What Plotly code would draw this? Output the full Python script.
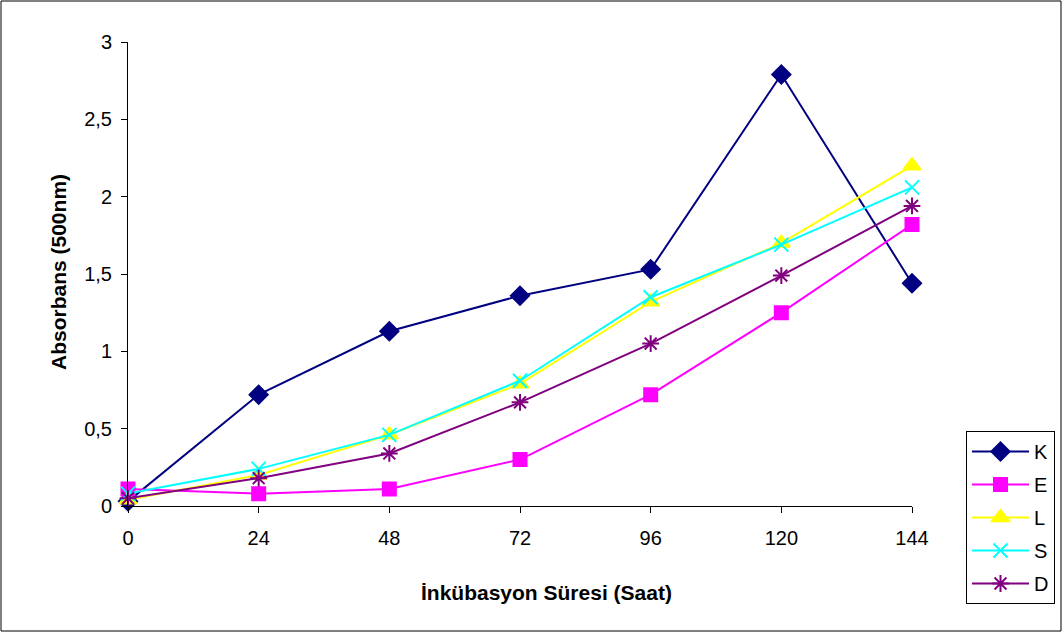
import plotly.graph_objects as go

hours = [0, 24, 48, 72, 96, 120, 144]
K = [0.03, 0.72, 1.13, 1.36, 1.53, 2.79, 1.44]
E = [0.11, 0.08, 0.11, 0.30, 0.72, 1.25, 1.82]
L = [0.04, 0.20, 0.46, 0.79, 1.32, 1.70, 2.20]
S = [0.08, 0.24, 0.46, 0.81, 1.35, 1.69, 2.06]
D = [0.05, 0.18, 0.34, 0.67, 1.05, 1.49, 1.94]
y_ticks = [0, 0.5, 1, 1.5, 2, 2.5, 3]
y_ticktext = ["0", "0,5", "1", "1,5", "2", "2,5", "3"]

series = [
    ("K", K, "#000080", "diamond", 14),
    ("E", E, "#FF00FF", "square", 13),
    ("L", L, "#FFFF00", "triangle-up", 15),
    ("S", S, "#00FFFF", "x-thin-open", 14),
    ("D", D, "#800080", "asterisk-open", 14),
]

fig = go.Figure()
for name, vals, col, sym, sz in series:
    fig.add_trace(go.Scatter(
        x=hours, y=vals, name=name, mode="lines+markers",
        line=dict(color=col, width=2),
        marker=dict(symbol=sym, size=sz, color=col, line=dict(color=col, width=2)),
        legendgroup=name, cliponaxis=False,
    ))

W, H = 1062, 632
l, r, t, b = 128, 150, 42, 126
pw, ph = W - l - r, H - t - b

def px_x(p):
    return (p - l) / pw

def px_y(p):
    return (H - b - p) / ph

fig.update_layout(
    width=W, height=H,
    margin=dict(l=l, r=r, t=t, b=b, autoexpand=False),
    paper_bgcolor="white", plot_bgcolor="white",
    font=dict(family="Liberation Sans, Arial", size=20, color="black"),
    showlegend=True,
    legend=dict(
        x=px_x(966), y=px_y(431), xanchor="left", yanchor="top",
        bordercolor="black", borderwidth=1, bgcolor="white",
        font=dict(size=20), tracegroupgap=4, itemwidth=57,
    ),
    xaxis=dict(
        range=[0, 144], tickvals=hours, ticktext=[str(h) for h in hours],
        tickfont=dict(size=20), ticklabelstandoff=8, automargin=False,
        showgrid=False, zeroline=False, showline=True, linecolor="black", linewidth=1,
        ticks="outside", ticklen=6, tickcolor="black",
    ),
    yaxis=dict(
        range=[0, 3], tickvals=y_ticks, ticktext=y_ticktext,
        tickfont=dict(size=20), ticklabelstandoff=5, automargin=False,
        showgrid=False, zeroline=False, showline=True, linecolor="black", linewidth=1,
        ticks="outside", ticklen=6, tickcolor="black",
    ),
    annotations=[
        dict(text="<b>İnkübasyon Süresi (Saat)</b>", xref="paper", yref="paper",
             x=px_x(546), y=px_y(592), xanchor="center", yanchor="middle",
             showarrow=False, font=dict(size=21)),
        dict(text="<b>Absorbans (500nm)</b>", xref="paper", yref="paper",
             x=px_x(58), y=px_y(272), xanchor="center", yanchor="middle",
             textangle=-90, showarrow=False, font=dict(size=21)),
    ],
    shapes=[dict(
        type="rect", xref="paper", yref="paper",
        x0=-(l - 1) / pw, x1=(W - l - 1) / pw,
        y0=-(b - 1) / ph, y1=(H - b - 1) / ph,
        line=dict(color="black", width=1), fillcolor="rgba(0,0,0,0)", layer="below",
    )],
)

fig.write_html("out.html")
